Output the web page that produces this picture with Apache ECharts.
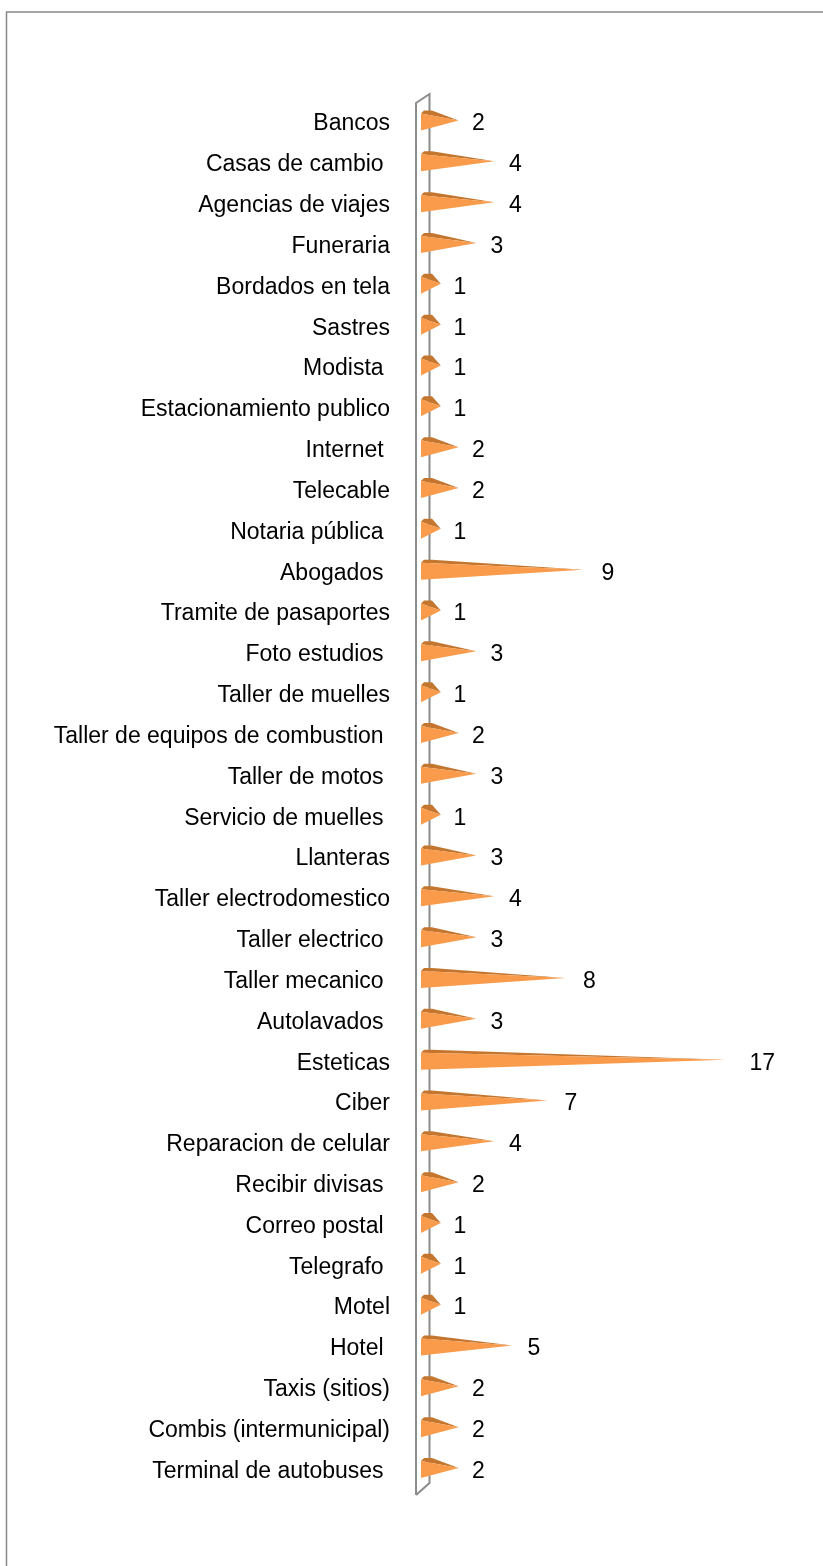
<!DOCTYPE html>
<html>
<head>
<meta charset="utf-8">
<script src="https://cdn.jsdelivr.net/npm/echarts@6/dist/echarts.min.js"></script>
<style>
  html, body { margin: 0; padding: 0; background: #fff; }
  #chart { width: 823px; height: 1566px; }
</style>
</head>
<body>
<div id="chart"></div>
<script>
// Servicios: number of establishments per type
const categories = [
  'Bancos', 'Casas de cambio ', 'Agencias de viajes', 'Funeraria', 'Bordados en tela',
  'Sastres', 'Modista ', 'Estacionamiento publico', 'Internet ', 'Telecable',
  'Notaria pública ', 'Abogados ', 'Tramite de pasaportes', 'Foto estudios ', 'Taller de muelles',
  'Taller de equipos de combustion ', 'Taller de motos ', 'Servicio de muelles ', 'Llanteras',
  'Taller electrodomestico', 'Taller electrico ', 'Taller mecanico ', 'Autolavados ', 'Esteticas',
  'Ciber', 'Reparacion de celular', 'Recibir divisas ', 'Correo postal ', 'Telegrafo ',
  'Motel', 'Hotel ', 'Taxis (sitios)', 'Combis (intermunicipal)', 'Terminal de autobuses '
];
const values = [
  2, 4, 4, 3, 1,
  1, 1, 1, 2, 2,
  1, 9, 1, 3, 1,
  2, 3, 1, 3,
  4, 3, 8, 3, 17,
  7, 4, 2, 1, 1,
  1, 5, 2, 2, 2
];

const FONT = '"Liberation Sans", Arial, sans-serif';
const LIGHT = '#F99B4A';
const DARK = '#C4762F';
const LINE = '#8c8c8c';

const chart = echarts.init(document.getElementById('chart'), null, { renderer: 'canvas' });

// cone-shaped bar pointing right, with a darker top face
function renderCone(params, api) {
  const v = api.value(0);
  const idx = api.value(1);
  const tip = api.coord([v, idx]);
  const base = api.coord([0, idx]);
  const cy = tip[1] - 3.5;
  const bx = base[0] - 2;
  const tx = tip[0];
  return {
    type: 'group',
    children: [
      {
        type: 'polygon',
        shape: { points: [[bx, cy - 7], [bx + 3, cy - 10], [bx + 11, cy - 10], [tx, cy]] },
        style: { fill: DARK }
      },
      {
        type: 'polygon',
        shape: { points: [[bx, cy - 7], [bx, cy + 10], [tx, cy]] },
        style: { fill: LIGHT }
      },
      {
        type: 'text',
        style: {
          text: String(v),
          x: tx + 12 + 0.7 * v,
          y: tip[1],
          fill: '#000',
          font: '23px ' + FONT,
          verticalAlign: 'middle',
          align: 'left'
        }
      }
    ]
  };
}

const option = {
  animation: false,
  backgroundColor: '#fff',
  grid: { left: 423, right: 44, top: 103.6, bottom: 74.1, containLabel: false },
  xAxis: { type: 'value', min: 0, max: 20, show: false },
  yAxis: {
    type: 'category',
    inverse: true,
    data: categories,
    axisLine: { show: false },
    axisTick: { show: false },
    splitLine: { show: false },
    axisLabel: { color: '#000', fontSize: 23, fontFamily: FONT, margin: 33 }
  },
  graphic: [
    // outer chart frame
    {
      type: 'polyline',
      z: 0,
      shape: { points: [[6.5, 1570], [6.5, 12], [830, 12]] },
      style: { stroke: '#888', lineWidth: 1.5, fill: null }
    },
    // axis wall, behind the bars
    {
      type: 'polyline',
      z: 0,
      shape: { points: [[416, 1495], [416, 103], [429.5, 94], [429.5, 1483], [416, 1495]] },
      style: { stroke: LINE, lineWidth: 2, fill: null }
    }
  ],
  series: [{
    type: 'custom',
    renderItem: renderCone,
    encode: { x: 0, y: 1 },
    data: values.map((v, i) => [v, i]),
    z: 20
  }]
};

chart.setOption(option);
</script>
</body>
</html>
